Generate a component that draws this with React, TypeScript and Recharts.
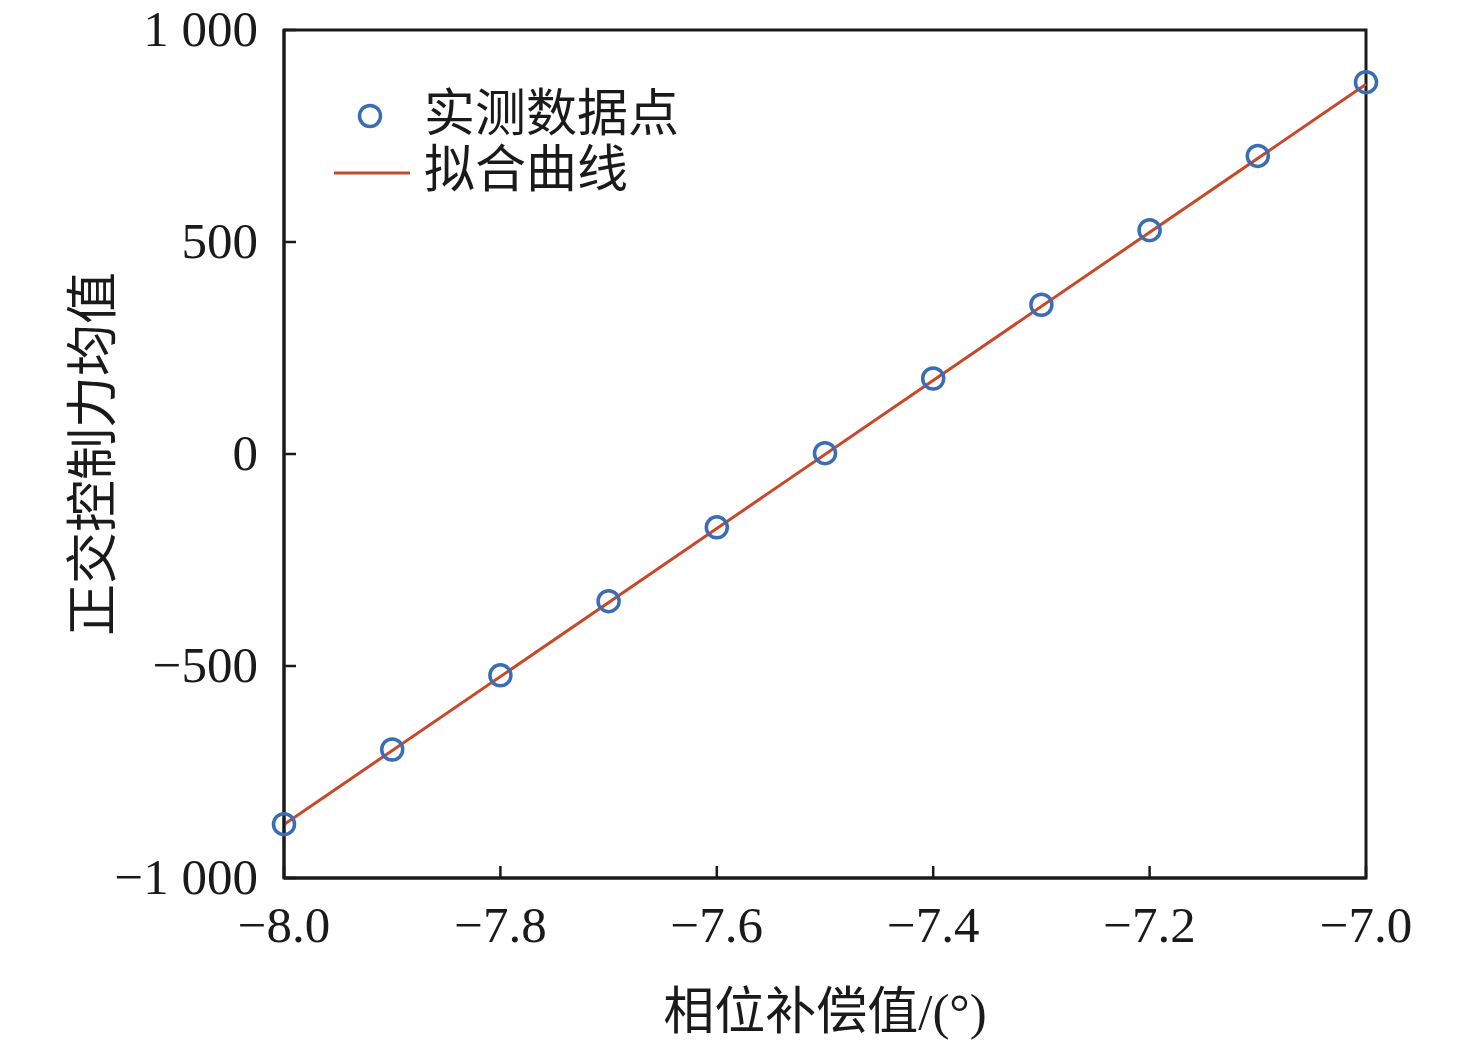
import React from 'react';
import {
  ComposedChart,
  Scatter,
  Line,
  XAxis,
  YAxis,
  ReferenceArea,
  Legend,
  Label,
} from 'recharts';

// Measured data points (phase compensation in degrees, mean orthogonal control force)
const phaseValues = [-8.0, -7.9, -7.8, -7.7, -7.6, -7.5, -7.4, -7.3, -7.2, -7.1, -7.0];
const forceValues = [-873, -697, -522, -347, -173, 2, 178, 352, 528, 703, 877];

// Fitted line endpoints
const fitX = [-8.0, -7.0];
const fitY = [-874, 872];

const xTicks = [-8.0, -7.8, -7.6, -7.4, -7.2, -7.0];
const yTicks = [-1000, -500, 0, 500, 1000];

const legendLabels = ['实测数据点', '拟合曲线'];
const xAxisTitle = '相位补偿值/(°)';
const yAxisTitle = '正交控制力均值';

const scatterData = phaseValues.map((x, i) => ({ x, y: forceValues[i] }));
const fitData = fitX.map((x, i) => ({ x, fit: fitY[i] }));

const FONT = '"Liberation Serif", "Times New Roman", "Noto Sans CJK SC", serif';
const INK = '#1a1a1a';
const BLUE = '#3a6db4';
const RED = '#c8482a';

const fmtX = (v: number) => {
  const s = Math.abs(v).toFixed(1);
  return v < 0 ? '\u2212' + s : s;
};
const fmtY = (v: number) => {
  const a = Math.abs(v);
  const s = a >= 1000 ? Math.floor(a / 1000) + ' ' + String(a % 1000).padStart(3, '0') : String(a);
  return v < 0 ? '\u2212' + s : s;
};

const CircleShape = (props: any) => {
  const { cx, cy } = props;
  if (cx == null || cy == null) return null;
  return <circle cx={cx} cy={cy} r={10.5} fill="none" stroke={BLUE} strokeWidth={3.5} />;
};

const LegendContent = () => (
  <svg width={720} height={220} style={{ display: 'block' }}>
    <circle cx={370} cy={116} r={10.5} fill="none" stroke={BLUE} strokeWidth={3.5} />
    <text x={424} y={114} fontSize={51} fontFamily={FONT} fill={INK} dominantBaseline="central">
      {legendLabels[0]}
    </text>
    <line x1={334} x2={410} y1={173} y2={173} stroke={RED} strokeWidth={3} />
    <text x={424} y={170} fontSize={51} fontFamily={FONT} fill={INK} dominantBaseline="central">
      {legendLabels[1]}
    </text>
  </svg>
);

const YTitle = (props: any) => {
  const { viewBox } = props;
  const cx = viewBox.x + 9;
  const cy = viewBox.y + viewBox.height / 2;
  return (
    <text
      x={cx}
      y={cy}
      transform={`rotate(-90 ${cx} ${cy})`}
      textAnchor="middle"
      dominantBaseline="central"
      fontSize={52}
      fontFamily={FONT}
      fill={INK}
    >
      {yAxisTitle}
    </text>
  );
};

const XTitle = (props: any) => {
  const { viewBox } = props;
  const cx = viewBox.x + viewBox.width / 2;
  const cy = viewBox.y + 134;
  return (
    <text x={cx} y={cy} textAnchor="middle" dominantBaseline="central" fontSize={51} fontFamily={FONT} fill={INK}>
      {xAxisTitle}
    </text>
  );
};

export default function App() {
  return (
    <div style={{ position: 'absolute', left: 0, top: 0, width: 1476, height: 1044, background: '#fff' }}>
      <ComposedChart
        width={1476}
        height={1044}
        margin={{ top: 30, right: 110, bottom: 0, left: 84 }}
      >
        <XAxis
          dataKey="x"
          type="number"
          domain={[-8, -7]}
          ticks={xTicks}
          tickFormatter={fmtX}
          height={166}
          tickSize={-12}
          tickMargin={40}
          axisLine={{ stroke: INK, strokeWidth: 3 }}
          tickLine={{ stroke: INK, strokeWidth: 2.5 }}
          tick={{ fill: INK, fontSize: 51, fontFamily: FONT }}
          interval={0}
        >
          <Label content={<XTitle />} />
        </XAxis>
        <YAxis
          type="number"
          domain={[-1000, 1000]}
          ticks={yTicks}
          tickFormatter={fmtY}
          width={200}
          tickSize={-12}
          tickMargin={38}
          axisLine={{ stroke: INK, strokeWidth: 3 }}
          tickLine={{ stroke: INK, strokeWidth: 2.5 }}
          tick={{ fill: INK, fontSize: 51, fontFamily: FONT, dy: -2 }}
          interval={0}
        >
          <Label content={<YTitle />} />
        </YAxis>
        <ReferenceArea
          x1={-8}
          x2={-7}
          y1={-1000}
          y2={1000}
          fill="none"
          fillOpacity={0}
          stroke={INK}
          strokeWidth={3}
          ifOverflow="visible"
        />
        <Line
          data={fitData}
          dataKey="fit"
          type="linear"
          stroke={RED}
          strokeWidth={3}
          dot={false}
          activeDot={false}
          isAnimationActive={false}
          legendType="line"
        />
        <Scatter
          data={scatterData}
          dataKey="y"
          shape={<CircleShape />}
          isAnimationActive={false}
        />
        <Legend
          layout="vertical"
          align="center"
          verticalAlign="middle"
          content={<LegendContent />}
          wrapperStyle={{ position: 'absolute', left: 0, top: 0, width: 720, height: 220 }}
        />
      </ComposedChart>
    </div>
  );
}
